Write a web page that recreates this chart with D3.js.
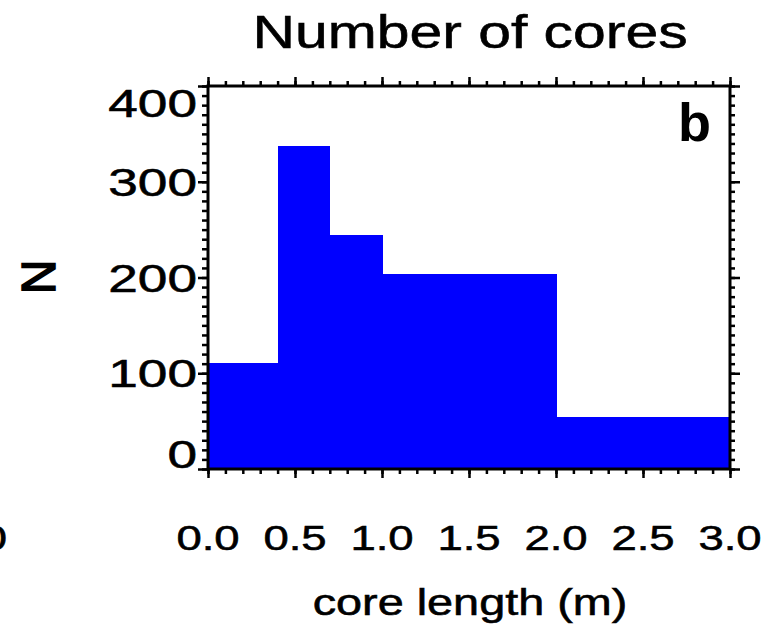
<!DOCTYPE html>
<html>
<head>
<meta charset="utf-8">
<script src="https://cdn.jsdelivr.net/npm/d3@7"></script>
<style>
  body { margin: 0; background: #fff; }
  text { font-family: "Liberation Sans", Arial, Helvetica, sans-serif; fill: #000; stroke: #000; stroke-width: 0.55px; }
</style>
</head>
<body>
<div id="chart"></div>
<script>
// histogram bins of core length (m) and the number of cores in each
var binStart = [0.0, 0.4, 0.7, 1.0, 2.0];
var binEnd = [0.4, 0.7, 1.0, 2.0, 3.0];
var counts = [111, 337, 244, 204, 54];

var xMajor = [0, 0.5, 1, 1.5, 2, 2.5, 3];
var xLabels = ["0.0", "0.5", "1.0", "1.5", "2.0", "2.5", "3.0"];
var yMajor = [0, 100, 200, 300, 400];
var yLabels = ["0", "100", "200", "300", "400"];

var width = 769,
  height = 639;
var plot = { left: 208, right: 730, top: 86, bottom: 469 };

var x = d3.scaleLinear().domain([0, 3]).range([plot.left, plot.right]);
var y = d3.scaleLinear().domain([0, 400]).range([plot.bottom, plot.top]);

var svg = d3
  .select("#chart")
  .append("svg")
  .attr("width", width)
  .attr("height", height);

// bars
svg
  .append("g")
  .attr("shape-rendering", "crispEdges")
  .selectAll("rect")
  .data(counts)
  .enter()
  .append("rect")
  .attr("x", (d, i) => x(binStart[i]))
  .attr("width", (d, i) => x(binEnd[i]) - x(binStart[i]) + 0.5)
  .attr("y", (d) => y(d))
  .attr("height", (d) => y(0) - y(d))
  .attr("fill", "#0000ff");

// ticks on all four sides, pointing outward
var xMinor = d3.range(0, 31).map((i) => i / 10);
var yMinor = d3.range(0, 41).map((i) => i * 10);

function ticks(axis, scale, values, size, pos) {
  var g = svg
    .append("g")
    .attr("transform", pos)
    .call(axis(scale).tickValues(values).tickSize(size).tickSizeOuter(0).tickFormat(""));
  g.select(".domain").remove();
  g.selectAll("line").attr("stroke", "#000").attr("stroke-width", 2.5);
}
ticks(d3.axisBottom, x, xMinor, 5, `translate(0,${plot.bottom})`);
ticks(d3.axisBottom, x, xMajor, 9, `translate(0,${plot.bottom})`);
ticks(d3.axisTop, x, xMinor, 5, `translate(0,${plot.top})`);
ticks(d3.axisTop, x, xMajor, 9, `translate(0,${plot.top})`);
ticks(d3.axisLeft, y, yMinor, 6, `translate(${plot.left},0)`);
ticks(d3.axisLeft, y, yMajor, 10, `translate(${plot.left},0)`);
ticks(d3.axisRight, y, yMinor, 5, `translate(${plot.right},0)`);
ticks(d3.axisRight, y, yMajor, 10, `translate(${plot.right},0)`);

// frame
svg
  .append("rect")
  .attr("x", plot.left)
  .attr("y", plot.top)
  .attr("width", plot.right - plot.left)
  .attr("height", plot.bottom - plot.top)
  .attr("fill", "none")
  .attr("stroke", "#000")
  .attr("stroke-width", 3);

// stretched text helper (the original fonts are wide)
function label(txt, px, py, size, anchor, sx) {
  return svg
    .append("text")
    .attr("transform", `translate(${px},${py}) scale(${sx},1)`)
    .attr("text-anchor", anchor)
    .style("font-size", size + "px")
    .text(txt);
}

xLabels.forEach((t, i) => label(t, x(xMajor[i]), 550, 35, "middle", 1.3));

// end labels are nudged inside the axis range
var yNudge = [-15, 0, 0, 0, 17];
yLabels.forEach((t, i) =>
  label(t, 197, y(yMajor[i]) + 14 + yNudge[i], 38, "end", 1.4)
);

label("Number of cores", 470, 48, 46, "middle", 1.28);
label("core length (m)", 470, 615, 36, "middle", 1.3);

svg
  .append("text")
  .attr("transform", "translate(55,277) rotate(-90)")
  .attr("text-anchor", "middle")
  .style("font-size", "48px")
  .style("stroke-width", "1.5px")
  .text("N");

svg
  .append("text")
  .attr("x", 711)
  .attr("y", 141)
  .attr("text-anchor", "end")
  .style("font-size", "54px")
  .style("font-weight", "bold")
  .style("stroke-width", "0")
  .text("b");

// edge of the neighbouring panel's last x label
label("3.0", 7, 550, 35, "end", 1.3);
</script>
</body>
</html>
